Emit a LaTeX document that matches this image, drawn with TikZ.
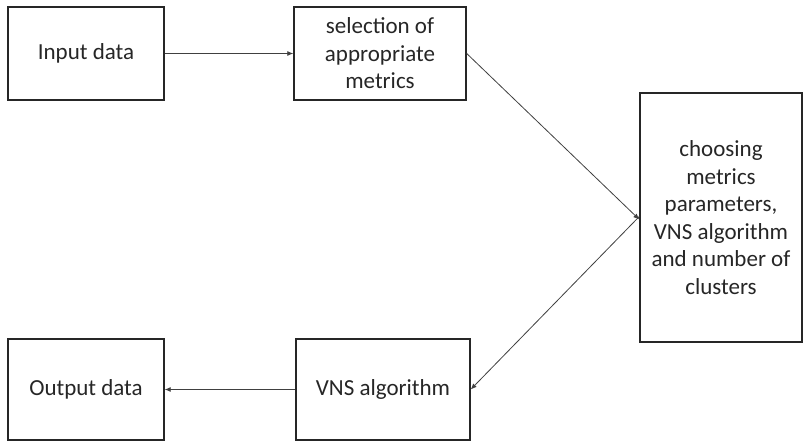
\documentclass[tikz,border=0pt]{standalone}
\usepackage{fontspec}
\setmainfont{Carlito}
\usetikzlibrary{arrows.meta}
\begin{document}
\begin{tikzpicture}[x=1pt,y=-1pt,
  box/.style={draw=black!85, line width=1.4pt, rectangle, align=center, inner sep=0pt,
    font=\fontsize{23}{27.5}\selectfont, text=black!85},
  conn/.style={draw=black!75, line width=0.8pt, -{Latex[length=6pt,width=5pt]}}]
\useasboundingbox (0,0) rectangle (804,443);
\node[box, minimum width=156pt, minimum height=93pt] (in) at (86,53.5) {Input data};
\node[box, minimum width=172pt, minimum height=93pt] (sel) at (380,53.5) {selection of\\appropriate\\metrics};
\node[box, minimum width=162pt, minimum height=249pt] (ch) at (721,217.5) {choosing\\metrics\\parameters,\\VNS algorithm\\and number of\\clusters};
\node[box, minimum width=156pt, minimum height=101pt] (out) at (86,389.5) {Output data};
\node[box, minimum width=174pt, minimum height=101pt] (vns) at (383,389.5) {VNS algorithm};
\draw[conn] (in.east) -- (sel.west);
\draw[conn] (sel.east) -- ([yshift=-2pt]ch.west);
\draw[conn] ([yshift=1pt]ch.west) -- (vns.east);
\draw[conn] (vns.west) -- (out.east);
\end{tikzpicture}
\end{document}
